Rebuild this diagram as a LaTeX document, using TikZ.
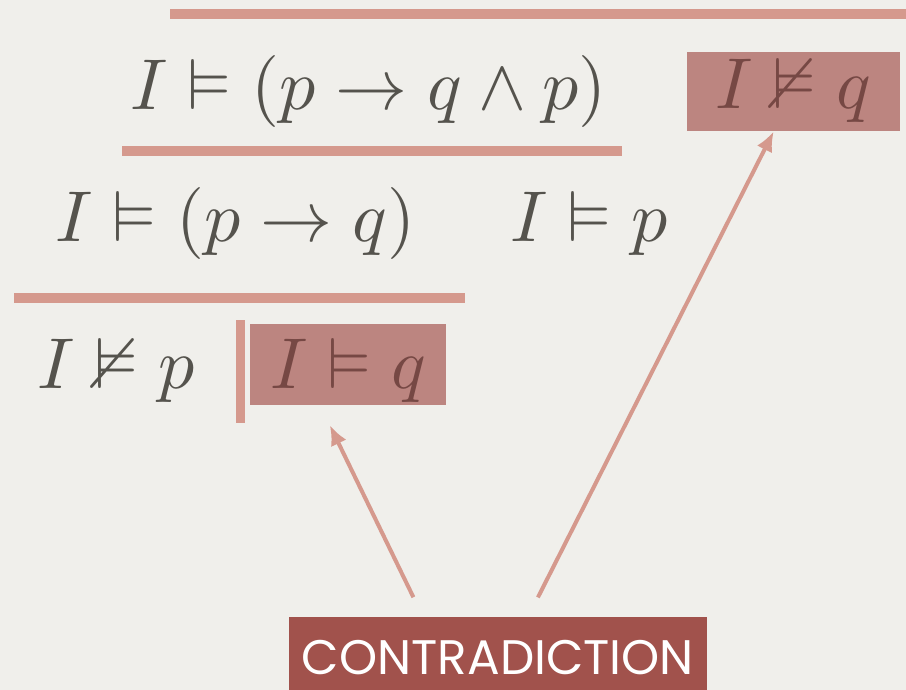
\documentclass[tikz,border=0pt]{standalone}
\usepackage{amssymb}
\usepackage{fontspec}
\newfontfamily\contrafont{Poppins}
\usetikzlibrary{arrows.meta}
\definecolor{paper}{RGB}{240,239,235}
\definecolor{ink}{RGB}{85,83,77}
\definecolor{rulered}{RGB}{213,153,141}
\definecolor{boxred}{RGB}{188,133,128}
\definecolor{boxink}{RGB}{118,72,68}
\definecolor{contrared}{RGB}{161,82,76}
\newcommand\bigmath[1]{\scalebox{7.2}{$#1$}}

\begin{document}
\begin{tikzpicture}[x=1pt,y=-1pt,
  formula/.style={anchor=base west,inner sep=0,text=ink},
  hitbox/.style={anchor=north west,inner sep=0,fill=boxred,text=boxink},
  bar/.style={line width=10pt,color=rulered},
  arr/.style={-{Latex[length=20pt,width=17pt]},line width=4pt,color=rulered}]

\fill[paper] (0,0) rectangle (906,690);
\useasboundingbox (0,0) rectangle (906,690);

% inference bars
\draw[bar] (170,14) -- (906,14);
\draw[bar] (122,151) -- (622,151);
\draw[bar] (14,298) -- (465,298);
\draw[bar,line width=9pt] (240,320) -- (240,423);

% formulas
\node[formula] (goal) at (130,110) {\bigmath{I \vDash (p \to q \land p)}};
\node[hitbox,minimum width=213pt,text height=56pt,text depth=23pt] (negq) at (687,52) {\bigmath{I \nvDash q}};
\node[formula] (imp) at (55,242) {\bigmath{I \vDash (p \to q)}};
\node[formula] (hypp) at (510,242) {\bigmath{I \vDash p}};
\node[formula] (negp) at (37,388) {\bigmath{I \nvDash p}};
\node[hitbox,minimum width=196pt,text height=64pt,text depth=17pt] (posq) at (250,324) {\bigmath{I \vDash q}};

% label
\node[anchor=north,fill=contrared,text=white,minimum width=418pt,minimum height=80pt,
  text height=35pt,text depth=0pt,inner sep=0,font=\contrafont\fontsize{48.5}{52}\selectfont] (contra) at (498,617) {CONTRADICTION};

\draw[arr,shorten <=22pt,shorten >=22pt] ([xshift=-75pt]contra.north) -- ([xshift=-28pt]posq.south);
\draw[arr,shorten <=22pt] ([xshift=30pt]contra.north) -- ([xshift=-20pt]negq.south);
\end{tikzpicture}
\end{document}
